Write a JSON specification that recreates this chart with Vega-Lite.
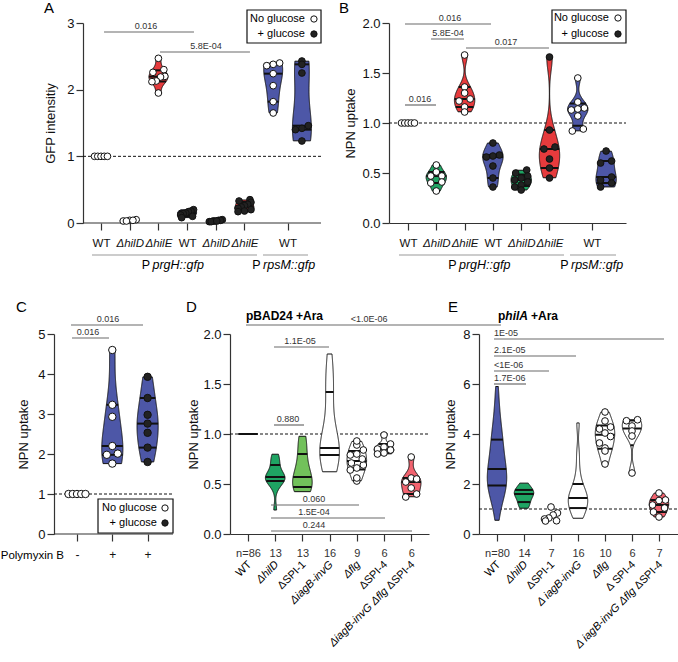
{
"$schema": "https://vega.github.io/schema/vega-lite/v6.json",
"padding": 0,
"autosize": {"type": "pad"},
"background": "white",
"datasets": {
"one": [{}],
"obs": [
{"p":"A","g":"WT","s":"WT","gl":0,"v":1},{"p":"A","g":"WT","s":"WT","gl":0,"v":1},{"p":"A","g":"WT","s":"WT","gl":0,"v":1},{"p":"A","g":"WT","s":"WT","gl":0,"v":1},{"p":"A","g":"WT","s":"WT","gl":0,"v":1},
{"p":"A","g":"hilD","s":"hilD","gl":0,"v":0.03},{"p":"A","g":"hilD","s":"hilD","gl":0,"v":0.04},{"p":"A","g":"hilD","s":"hilD","gl":0,"v":0.03},{"p":"A","g":"hilD","s":"hilD","gl":0,"v":0.05},{"p":"A","g":"hilD","s":"hilD","gl":0,"v":0.04},
{"p":"A","g":"hilE","s":"hilE","gl":0,"v":2.47},{"p":"A","g":"hilE","s":"hilE","gl":0,"v":2.30},{"p":"A","g":"hilE","s":"hilE","gl":0,"v":2.26},{"p":"A","g":"hilE","s":"hilE","gl":0,"v":2.20},{"p":"A","g":"hilE","s":"hilE","gl":0,"v":2.19},{"p":"A","g":"hilE","s":"hilE","gl":0,"v":2.13},{"p":"A","g":"hilE","s":"hilE","gl":0,"v":2.12},{"p":"A","g":"hilE","s":"hilE","gl":0,"v":1.95},
{"p":"A","g":"WTg","s":"WT","gl":1,"v":0.20},{"p":"A","g":"WTg","s":"WT","gl":1,"v":0.18},{"p":"A","g":"WTg","s":"WT","gl":1,"v":0.17},{"p":"A","g":"WTg","s":"WT","gl":1,"v":0.15},{"p":"A","g":"WTg","s":"WT","gl":1,"v":0.14},{"p":"A","g":"WTg","s":"WT","gl":1,"v":0.12},{"p":"A","g":"WTg","s":"WT","gl":1,"v":0.10},{"p":"A","g":"WTg","s":"WT","gl":1,"v":0.08},
{"p":"A","g":"hilDg","s":"hilD","gl":1,"v":0.05},{"p":"A","g":"hilDg","s":"hilD","gl":1,"v":0.04},{"p":"A","g":"hilDg","s":"hilD","gl":1,"v":0.04},{"p":"A","g":"hilDg","s":"hilD","gl":1,"v":0.03},{"p":"A","g":"hilDg","s":"hilD","gl":1,"v":0.03},{"p":"A","g":"hilDg","s":"hilD","gl":1,"v":0.02},{"p":"A","g":"hilDg","s":"hilD","gl":1,"v":0.02},{"p":"A","g":"hilDg","s":"hilD","gl":1,"v":0.03},
{"p":"A","g":"hilEg","s":"hilE","gl":1,"v":0.35},{"p":"A","g":"hilEg","s":"hilE","gl":1,"v":0.33},{"p":"A","g":"hilEg","s":"hilE","gl":1,"v":0.31},{"p":"A","g":"hilEg","s":"hilE","gl":1,"v":0.28},{"p":"A","g":"hilEg","s":"hilE","gl":1,"v":0.26},{"p":"A","g":"hilEg","s":"hilE","gl":1,"v":0.24},{"p":"A","g":"hilEg","s":"hilE","gl":1,"v":0.22},{"p":"A","g":"hilEg","s":"hilE","gl":1,"v":0.20},{"p":"A","g":"hilEg","s":"hilE","gl":1,"v":0.18},{"p":"A","g":"hilEg","s":"hilE","gl":1,"v":0.17},
{"p":"A","g":"rpsM","s":"WT","gl":0,"v":2.40},{"p":"A","g":"rpsM","s":"WT","gl":0,"v":2.38},{"p":"A","g":"rpsM","s":"WT","gl":0,"v":2.36},{"p":"A","g":"rpsM","s":"WT","gl":0,"v":2.24},{"p":"A","g":"rpsM","s":"WT","gl":0,"v":2.06},{"p":"A","g":"rpsM","s":"WT","gl":0,"v":1.82},{"p":"A","g":"rpsM","s":"WT","gl":0,"v":1.65},
{"p":"A","g":"rpsMg","s":"WT","gl":1,"v":2.43},{"p":"A","g":"rpsMg","s":"WT","gl":1,"v":2.38},{"p":"A","g":"rpsMg","s":"WT","gl":1,"v":2.25},{"p":"A","g":"rpsMg","s":"WT","gl":1,"v":1.46},{"p":"A","g":"rpsMg","s":"WT","gl":1,"v":1.42},{"p":"A","g":"rpsMg","s":"WT","gl":1,"v":1.40},{"p":"A","g":"rpsMg","s":"WT","gl":1,"v":1.23},
{"p":"B","g":"WT","s":"WT","gl":0,"v":1},{"p":"B","g":"WT","s":"WT","gl":0,"v":1},{"p":"B","g":"WT","s":"WT","gl":0,"v":1},{"p":"B","g":"WT","s":"WT","gl":0,"v":1},{"p":"B","g":"WT","s":"WT","gl":0,"v":1},
{"p":"B","g":"hilD","s":"hilD","gl":0,"v":0.58},{"p":"B","g":"hilD","s":"hilD","gl":0,"v":0.51},{"p":"B","g":"hilD","s":"hilD","gl":0,"v":0.47},{"p":"B","g":"hilD","s":"hilD","gl":0,"v":0.47},{"p":"B","g":"hilD","s":"hilD","gl":0,"v":0.41},{"p":"B","g":"hilD","s":"hilD","gl":0,"v":0.40},{"p":"B","g":"hilD","s":"hilD","gl":0,"v":0.32},
{"p":"B","g":"hilE","s":"hilE","gl":0,"v":1.68},{"p":"B","g":"hilE","s":"hilE","gl":0,"v":1.36},{"p":"B","g":"hilE","s":"hilE","gl":0,"v":1.30},{"p":"B","g":"hilE","s":"hilE","gl":0,"v":1.24},{"p":"B","g":"hilE","s":"hilE","gl":0,"v":1.22},{"p":"B","g":"hilE","s":"hilE","gl":0,"v":1.16},{"p":"B","g":"hilE","s":"hilE","gl":0,"v":1.11},
{"p":"B","g":"WTg","s":"WT","gl":1,"v":0.80},{"p":"B","g":"WTg","s":"WT","gl":1,"v":0.68},{"p":"B","g":"WTg","s":"WT","gl":1,"v":0.67},{"p":"B","g":"WTg","s":"WT","gl":1,"v":0.66},{"p":"B","g":"WTg","s":"WT","gl":1,"v":0.57},{"p":"B","g":"WTg","s":"WT","gl":1,"v":0.45},{"p":"B","g":"WTg","s":"WT","gl":1,"v":0.36},
{"p":"B","g":"hilDg","s":"hilD","gl":1,"v":0.53},{"p":"B","g":"hilDg","s":"hilD","gl":1,"v":0.50},{"p":"B","g":"hilDg","s":"hilD","gl":1,"v":0.47},{"p":"B","g":"hilDg","s":"hilD","gl":1,"v":0.45},{"p":"B","g":"hilDg","s":"hilD","gl":1,"v":0.43},{"p":"B","g":"hilDg","s":"hilD","gl":1,"v":0.41},{"p":"B","g":"hilDg","s":"hilD","gl":1,"v":0.38},{"p":"B","g":"hilDg","s":"hilD","gl":1,"v":0.36},{"p":"B","g":"hilDg","s":"hilD","gl":1,"v":0.33},
{"p":"B","g":"hilEg","s":"hilE","gl":1,"v":1.66},{"p":"B","g":"hilEg","s":"hilE","gl":1,"v":0.93},{"p":"B","g":"hilEg","s":"hilE","gl":1,"v":0.76},{"p":"B","g":"hilEg","s":"hilE","gl":1,"v":0.74},{"p":"B","g":"hilEg","s":"hilE","gl":1,"v":0.64},{"p":"B","g":"hilEg","s":"hilE","gl":1,"v":0.55},{"p":"B","g":"hilEg","s":"hilE","gl":1,"v":0.45},
{"p":"B","g":"rpsM","s":"WT","gl":0,"v":1.45},{"p":"B","g":"rpsM","s":"WT","gl":0,"v":1.21},{"p":"B","g":"rpsM","s":"WT","gl":0,"v":1.15},{"p":"B","g":"rpsM","s":"WT","gl":0,"v":1.14},{"p":"B","g":"rpsM","s":"WT","gl":0,"v":1.13},{"p":"B","g":"rpsM","s":"WT","gl":0,"v":1.07},{"p":"B","g":"rpsM","s":"WT","gl":0,"v":0.94},{"p":"B","g":"rpsM","s":"WT","gl":0,"v":0.92},
{"p":"B","g":"rpsMg","s":"WT","gl":1,"v":0.72},{"p":"B","g":"rpsMg","s":"WT","gl":1,"v":0.62},{"p":"B","g":"rpsMg","s":"WT","gl":1,"v":0.60},{"p":"B","g":"rpsMg","s":"WT","gl":1,"v":0.46},{"p":"B","g":"rpsMg","s":"WT","gl":1,"v":0.43},{"p":"B","g":"rpsMg","s":"WT","gl":1,"v":0.40},{"p":"B","g":"rpsMg","s":"WT","gl":1,"v":0.36},
{"p":"C","g":"neg","s":"WT","gl":0,"v":1},{"p":"C","g":"neg","s":"WT","gl":0,"v":1},{"p":"C","g":"neg","s":"WT","gl":0,"v":1},{"p":"C","g":"neg","s":"WT","gl":0,"v":1},{"p":"C","g":"neg","s":"WT","gl":0,"v":1},
{"p":"C","g":"pos1","s":"WT","gl":0,"v":4.60},{"p":"C","g":"pos1","s":"WT","gl":0,"v":3.23},{"p":"C","g":"pos1","s":"WT","gl":0,"v":2.93},{"p":"C","g":"pos1","s":"WT","gl":0,"v":2.20},{"p":"C","g":"pos1","s":"WT","gl":0,"v":2.01},{"p":"C","g":"pos1","s":"WT","gl":0,"v":1.98},{"p":"C","g":"pos1","s":"WT","gl":0,"v":1.76},
{"p":"C","g":"pos2","s":"WT","gl":1,"v":3.93},{"p":"C","g":"pos2","s":"WT","gl":1,"v":3.40},{"p":"C","g":"pos2","s":"WT","gl":1,"v":2.98},{"p":"C","g":"pos2","s":"WT","gl":1,"v":2.76},{"p":"C","g":"pos2","s":"WT","gl":1,"v":2.53},{"p":"C","g":"pos2","s":"WT","gl":1,"v":2.16},{"p":"C","g":"pos2","s":"WT","gl":1,"v":1.80},
{"p":"D","g":"WT","s":"WT","gl":0,"v":1},{"p":"D","g":"WT","s":"WT","gl":0,"v":1},{"p":"D","g":"WT","s":"WT","gl":0,"v":1},{"p":"D","g":"WT","s":"WT","gl":0,"v":1},{"p":"D","g":"WT","s":"WT","gl":0,"v":1},{"p":"D","g":"WT","s":"WT","gl":0,"v":1},{"p":"D","g":"WT","s":"WT","gl":0,"v":1},{"p":"D","g":"WT","s":"WT","gl":0,"v":1},{"p":"D","g":"WT","s":"WT","gl":0,"v":1},{"p":"D","g":"WT","s":"WT","gl":0,"v":1},
{"p":"D","g":"hilD","s":"hilD","gl":0,"v":0.24},{"p":"D","g":"hilD","s":"hilD","gl":0,"v":0.46},{"p":"D","g":"hilD","s":"hilD","gl":0,"v":0.52},{"p":"D","g":"hilD","s":"hilD","gl":0,"v":0.54},{"p":"D","g":"hilD","s":"hilD","gl":0,"v":0.55},{"p":"D","g":"hilD","s":"hilD","gl":0,"v":0.56},{"p":"D","g":"hilD","s":"hilD","gl":0,"v":0.57},{"p":"D","g":"hilD","s":"hilD","gl":0,"v":0.58},{"p":"D","g":"hilD","s":"hilD","gl":0,"v":0.60},{"p":"D","g":"hilD","s":"hilD","gl":0,"v":0.67},{"p":"D","g":"hilD","s":"hilD","gl":0,"v":0.71},{"p":"D","g":"hilD","s":"hilD","gl":0,"v":0.76},{"p":"D","g":"hilD","s":"hilD","gl":0,"v":0.80},
{"p":"D","g":"SPI1","s":"SPI1","gl":0,"v":0.42},{"p":"D","g":"SPI1","s":"SPI1","gl":0,"v":0.44},{"p":"D","g":"SPI1","s":"SPI1","gl":0,"v":0.46},{"p":"D","g":"SPI1","s":"SPI1","gl":0,"v":0.48},{"p":"D","g":"SPI1","s":"SPI1","gl":0,"v":0.50},{"p":"D","g":"SPI1","s":"SPI1","gl":0,"v":0.53},{"p":"D","g":"SPI1","s":"SPI1","gl":0,"v":0.57},{"p":"D","g":"SPI1","s":"SPI1","gl":0,"v":0.60},{"p":"D","g":"SPI1","s":"SPI1","gl":0,"v":0.65},{"p":"D","g":"SPI1","s":"SPI1","gl":0,"v":0.78},{"p":"D","g":"SPI1","s":"SPI1","gl":0,"v":0.82},{"p":"D","g":"SPI1","s":"SPI1","gl":0,"v":0.95},{"p":"D","g":"SPI1","s":"SPI1","gl":0,"v":0.98},
{"p":"D","g":"iagB","s":"iagB","gl":0,"v":0.62},{"p":"D","g":"iagB","s":"iagB","gl":0,"v":0.70},{"p":"D","g":"iagB","s":"iagB","gl":0,"v":0.75},{"p":"D","g":"iagB","s":"iagB","gl":0,"v":0.78},{"p":"D","g":"iagB","s":"iagB","gl":0,"v":0.82},{"p":"D","g":"iagB","s":"iagB","gl":0,"v":0.83},{"p":"D","g":"iagB","s":"iagB","gl":0,"v":0.84},{"p":"D","g":"iagB","s":"iagB","gl":0,"v":0.85},{"p":"D","g":"iagB","s":"iagB","gl":0,"v":0.87},{"p":"D","g":"iagB","s":"iagB","gl":0,"v":0.90},{"p":"D","g":"iagB","s":"iagB","gl":0,"v":0.98},{"p":"D","g":"iagB","s":"iagB","gl":0,"v":1.30},{"p":"D","g":"iagB","s":"iagB","gl":0,"v":1.46},{"p":"D","g":"iagB","s":"iagB","gl":0,"v":1.50},{"p":"D","g":"iagB","s":"iagB","gl":0,"v":1.62},{"p":"D","g":"iagB","s":"iagB","gl":0,"v":1.80},
{"p":"D","g":"flg","s":"flg","gl":0,"v":0.53},{"p":"D","g":"flg","s":"flg","gl":0,"v":0.56},{"p":"D","g":"flg","s":"flg","gl":0,"v":0.64},{"p":"D","g":"flg","s":"flg","gl":0,"v":0.66},{"p":"D","g":"flg","s":"flg","gl":0,"v":0.69},{"p":"D","g":"flg","s":"flg","gl":0,"v":0.71},{"p":"D","g":"flg","s":"flg","gl":0,"v":0.75},{"p":"D","g":"flg","s":"flg","gl":0,"v":0.79},{"p":"D","g":"flg","s":"flg","gl":0,"v":0.80},{"p":"D","g":"flg","s":"flg","gl":0,"v":0.84},{"p":"D","g":"flg","s":"flg","gl":0,"v":0.89},{"p":"D","g":"flg","s":"flg","gl":0,"v":0.93},
{"p":"D","g":"SPI4","s":"SPI4","gl":0,"v":0.99},{"p":"D","g":"SPI4","s":"SPI4","gl":0,"v":0.90},{"p":"D","g":"SPI4","s":"SPI4","gl":0,"v":0.87},{"p":"D","g":"SPI4","s":"SPI4","gl":0,"v":0.85},{"p":"D","g":"SPI4","s":"SPI4","gl":0,"v":0.84},{"p":"D","g":"SPI4","s":"SPI4","gl":0,"v":0.81},{"p":"D","g":"SPI4","s":"SPI4","gl":0,"v":0.80},
{"p":"D","g":"tri","s":"tri","gl":0,"v":0.77},{"p":"D","g":"tri","s":"tri","gl":0,"v":0.56},{"p":"D","g":"tri","s":"tri","gl":0,"v":0.55},{"p":"D","g":"tri","s":"tri","gl":0,"v":0.52},{"p":"D","g":"tri","s":"tri","gl":0,"v":0.46},{"p":"D","g":"tri","s":"tri","gl":0,"v":0.40},{"p":"D","g":"tri","s":"tri","gl":0,"v":0.37},
{"p":"E","g":"WT","s":"WT","gl":0,"v":0.55},{"p":"E","g":"WT","s":"WT","gl":0,"v":0.9},{"p":"E","g":"WT","s":"WT","gl":0,"v":1.2},{"p":"E","g":"WT","s":"WT","gl":0,"v":1.4},{"p":"E","g":"WT","s":"WT","gl":0,"v":1.55},{"p":"E","g":"WT","s":"WT","gl":0,"v":1.65},{"p":"E","g":"WT","s":"WT","gl":0,"v":1.75},{"p":"E","g":"WT","s":"WT","gl":0,"v":1.82},{"p":"E","g":"WT","s":"WT","gl":0,"v":1.88},{"p":"E","g":"WT","s":"WT","gl":0,"v":1.93},
{"p":"E","g":"WT","s":"WT","gl":0,"v":1.97},{"p":"E","g":"WT","s":"WT","gl":0,"v":2.0},{"p":"E","g":"WT","s":"WT","gl":0,"v":2.05},{"p":"E","g":"WT","s":"WT","gl":0,"v":2.1},{"p":"E","g":"WT","s":"WT","gl":0,"v":2.15},{"p":"E","g":"WT","s":"WT","gl":0,"v":2.2},{"p":"E","g":"WT","s":"WT","gl":0,"v":2.3},{"p":"E","g":"WT","s":"WT","gl":0,"v":2.4},{"p":"E","g":"WT","s":"WT","gl":0,"v":2.5},{"p":"E","g":"WT","s":"WT","gl":0,"v":2.58},
{"p":"E","g":"WT","s":"WT","gl":0,"v":2.62},{"p":"E","g":"WT","s":"WT","gl":0,"v":2.7},{"p":"E","g":"WT","s":"WT","gl":0,"v":2.8},{"p":"E","g":"WT","s":"WT","gl":0,"v":2.9},{"p":"E","g":"WT","s":"WT","gl":0,"v":3.0},{"p":"E","g":"WT","s":"WT","gl":0,"v":3.1},{"p":"E","g":"WT","s":"WT","gl":0,"v":3.25},{"p":"E","g":"WT","s":"WT","gl":0,"v":3.4},{"p":"E","g":"WT","s":"WT","gl":0,"v":3.55},{"p":"E","g":"WT","s":"WT","gl":0,"v":3.7},
{"p":"E","g":"WT","s":"WT","gl":0,"v":3.8},{"p":"E","g":"WT","s":"WT","gl":0,"v":3.85},{"p":"E","g":"WT","s":"WT","gl":0,"v":3.95},{"p":"E","g":"WT","s":"WT","gl":0,"v":4.1},{"p":"E","g":"WT","s":"WT","gl":0,"v":4.3},{"p":"E","g":"WT","s":"WT","gl":0,"v":4.5},{"p":"E","g":"WT","s":"WT","gl":0,"v":4.8},{"p":"E","g":"WT","s":"WT","gl":0,"v":5.1},{"p":"E","g":"WT","s":"WT","gl":0,"v":5.5},{"p":"E","g":"WT","s":"WT","gl":0,"v":5.9},
{"p":"E","g":"hilD","s":"hilD","gl":0,"v":1.02},{"p":"E","g":"hilD","s":"hilD","gl":0,"v":1.10},{"p":"E","g":"hilD","s":"hilD","gl":0,"v":1.18},{"p":"E","g":"hilD","s":"hilD","gl":0,"v":1.31},{"p":"E","g":"hilD","s":"hilD","gl":0,"v":1.40},{"p":"E","g":"hilD","s":"hilD","gl":0,"v":1.52},{"p":"E","g":"hilD","s":"hilD","gl":0,"v":1.58},{"p":"E","g":"hilD","s":"hilD","gl":0,"v":1.62},{"p":"E","g":"hilD","s":"hilD","gl":0,"v":1.66},{"p":"E","g":"hilD","s":"hilD","gl":0,"v":1.70},{"p":"E","g":"hilD","s":"hilD","gl":0,"v":1.75},{"p":"E","g":"hilD","s":"hilD","gl":0,"v":1.80},{"p":"E","g":"hilD","s":"hilD","gl":0,"v":1.95},{"p":"E","g":"hilD","s":"hilD","gl":0,"v":2.04},
{"p":"E","g":"SPI1","s":"SPI1","gl":0,"v":1.08},{"p":"E","g":"SPI1","s":"SPI1","gl":0,"v":0.84},{"p":"E","g":"SPI1","s":"SPI1","gl":0,"v":0.76},{"p":"E","g":"SPI1","s":"SPI1","gl":0,"v":0.64},{"p":"E","g":"SPI1","s":"SPI1","gl":0,"v":0.60},{"p":"E","g":"SPI1","s":"SPI1","gl":0,"v":0.53},{"p":"E","g":"SPI1","s":"SPI1","gl":0,"v":0.52},
{"p":"E","g":"iagB","s":"iagB","gl":0,"v":0.62},{"p":"E","g":"iagB","s":"iagB","gl":0,"v":0.75},{"p":"E","g":"iagB","s":"iagB","gl":0,"v":0.88},{"p":"E","g":"iagB","s":"iagB","gl":0,"v":1.00},{"p":"E","g":"iagB","s":"iagB","gl":0,"v":1.15},{"p":"E","g":"iagB","s":"iagB","gl":0,"v":1.25},{"p":"E","g":"iagB","s":"iagB","gl":0,"v":1.35},{"p":"E","g":"iagB","s":"iagB","gl":0,"v":1.40},{"p":"E","g":"iagB","s":"iagB","gl":0,"v":1.48},{"p":"E","g":"iagB","s":"iagB","gl":0,"v":1.55},{"p":"E","g":"iagB","s":"iagB","gl":0,"v":1.70},{"p":"E","g":"iagB","s":"iagB","gl":0,"v":1.85},{"p":"E","g":"iagB","s":"iagB","gl":0,"v":2.05},{"p":"E","g":"iagB","s":"iagB","gl":0,"v":2.50},{"p":"E","g":"iagB","s":"iagB","gl":0,"v":3.20},{"p":"E","g":"iagB","s":"iagB","gl":0,"v":4.45},
{"p":"E","g":"flg","s":"flg","gl":0,"v":4.88},{"p":"E","g":"flg","s":"flg","gl":0,"v":4.52},{"p":"E","g":"flg","s":"flg","gl":0,"v":4.28},{"p":"E","g":"flg","s":"flg","gl":0,"v":4.20},{"p":"E","g":"flg","s":"flg","gl":0,"v":4.04},{"p":"E","g":"flg","s":"flg","gl":0,"v":3.90},{"p":"E","g":"flg","s":"flg","gl":0,"v":3.64},{"p":"E","g":"flg","s":"flg","gl":0,"v":3.44},{"p":"E","g":"flg","s":"flg","gl":0,"v":3.32},{"p":"E","g":"flg","s":"flg","gl":0,"v":2.80},
{"p":"E","g":"SPI4","s":"SPI4","gl":0,"v":4.57},{"p":"E","g":"SPI4","s":"SPI4","gl":0,"v":4.53},{"p":"E","g":"SPI4","s":"SPI4","gl":0,"v":4.32},{"p":"E","g":"SPI4","s":"SPI4","gl":0,"v":4.12},{"p":"E","g":"SPI4","s":"SPI4","gl":0,"v":3.92},{"p":"E","g":"SPI4","s":"SPI4","gl":0,"v":2.44},
{"p":"E","g":"tri","s":"tri","gl":0,"v":1.64},{"p":"E","g":"tri","s":"tri","gl":0,"v":1.36},{"p":"E","g":"tri","s":"tri","gl":0,"v":1.34},{"p":"E","g":"tri","s":"tri","gl":0,"v":1.16},{"p":"E","g":"tri","s":"tri","gl":0,"v":1.04},{"p":"E","g":"tri","s":"tri","gl":0,"v":0.88},{"p":"E","g":"tri","s":"tri","gl":0,"v":0.68}
]
},
"bounds": "flush",
"spacing": 311,
"vconcat": [
{
"hconcat": [
{
"width": 267, "height": 200,
"resolve": {"axis": {"x": "independent", "y": "independent"}},
"layer": [
{"data": {"name": "one"}, "mark": {"type": "rule", "strokeDash": [3, 2], "color": "#111111", "strokeWidth": 1},
 "encoding": {
  "x": {"datum": -0.627, "type": "quantitative", "scale": {"domain": [-1.6376, 7.6655], "nice": false, "zero": false},
   "axis": {"values": [0, 1, 2, 3, 4, 5, 6.5], "domain": false, "title": null, "labelFontSize": 11.5, "labelPadding": 7, "labelOverlap": false, "labelFlush": false, "labelBound": false,
    "labelExpr": "(datum.value == 1 || datum.value == 4) ? 'ΔhilD' : ((datum.value == 2 || datum.value == 5) ? 'ΔhilE' : 'WT')",
    "labelFontStyle": {"condition": {"test": "datum.value == 1 || datum.value == 2 || datum.value == 4 || datum.value == 5", "value": "italic"}, "value": "normal"}}},
  "x2": {"datum": 7.666},
  "y": {"datum": 1, "type": "quantitative", "scale": {"domain": [0, 3], "nice": false, "zero": false},
   "axis": {"values": [0, 1, 2, 3], "format": "d", "labelOverlap": false, "labelFlush": false, "offset": -29, "title": "GFP intensitiy", "titlePadding": 9}}
 }},
{"data": {"name": "one"}, "mark": {"type": "rule", "color": "#333333", "strokeWidth": 1.2}, "encoding": {"x": {"datum": -0.627, "axis": null}, "x2": {"datum": 7.666}, "y": {"datum": 0, "axis": null}}},
{"data": {"name": "obs"},
 "transform": [
  {"filter": "datum.p == 'A'"},
  {"calculate": "indexof(['WT','hilD','hilE','WTg','hilDg','hilEg','rpsM','rpsMg'], datum.g)", "as": "idx"},
  {"joinaggregate": [{"op": "min", "field": "v", "as": "lo"}, {"op": "max", "field": "v", "as": "hi"}, {"op": "count", "as": "n"}], "groupby": ["g"]},
  {"filter": "datum.hi > datum.lo"},
  {"window": [{"op": "row_number", "as": "k"}, {"op": "lead", "field": "v", "as": "nx"}], "sort": [{"field": "v", "order": "ascending"}], "groupby": ["g"]},
  {"calculate": "isValid(datum.nx) ? datum.nx : datum.v", "as": "nx2"},
  {"calculate": "floor((datum.n+1)*0.25) == datum.k ? datum.v + ((datum.n+1)*0.25 - datum.k)*(datum.nx2 - datum.v) : null", "as": "c1"},
  {"calculate": "floor((datum.n+1)*0.5) == datum.k ? datum.v + ((datum.n+1)*0.5 - datum.k)*(datum.nx2 - datum.v) : null", "as": "c2"},
  {"calculate": "floor((datum.n+1)*0.75) == datum.k ? datum.v + ((datum.n+1)*0.75 - datum.k)*(datum.nx2 - datum.v) : null", "as": "c3"},
  {"joinaggregate": [{"op": "max", "field": "c1", "as": "q1"}, {"op": "max", "field": "c2", "as": "q2"}, {"op": "max", "field": "c3", "as": "q3"}], "groupby": ["g"]},
  {"joinaggregate": [{"op": "min", "field": "v", "as": "gmin"}, {"op": "max", "field": "v", "as": "gmax"}]},
  {"density": "v", "groupby": ["g", "idx", "s", "lo", "hi", "q1", "q2", "q3", "gmin", "gmax"], "steps": 400},
  {"filter": "datum.value >= datum.lo - 1e-9 && datum.value <= datum.hi + 1e-9"},
  {"joinaggregate": [{"op": "max", "field": "density", "as": "dm"}], "groupby": ["g"]},
  {"calculate": "datum.idx - 0.33*datum.density/datum.dm", "as": "xl"},
  {"calculate": "datum.idx + 0.33*datum.density/datum.dm", "as": "xr"}
 ],
 "mark": {"type": "area", "orient": "horizontal", "stroke": "#111111", "strokeWidth": 1},
 "encoding": {
  "y": {"field": "value", "type": "quantitative", "axis": null},
  "x": {"field": "xl", "type": "quantitative", "axis": null},
  "x2": {"field": "xr"},
  "fill": {"field": "s", "type": "nominal", "legend": null, "scale": {"domain": ["WT","hilD","hilE","SPI1","iagB","flg","SPI4","tri"], "range": ["#4d57a7","#1fa463","#e63b3d","#72c15b","#ffffff","#ffffff","#ffffff","#f2636f"]}},
  "detail": {"field": "g"}
 }},
{"data": {"name": "obs"},
 "transform": [
  {"filter": "datum.p == 'A'"},
  {"calculate": "indexof(['WT','hilD','hilE','WTg','hilDg','hilEg','rpsM','rpsMg'], datum.g)", "as": "idx"},
  {"joinaggregate": [{"op": "min", "field": "v", "as": "lo"}, {"op": "max", "field": "v", "as": "hi"}, {"op": "count", "as": "n"}], "groupby": ["g"]},
  {"filter": "datum.hi > datum.lo"},
  {"window": [{"op": "row_number", "as": "k"}, {"op": "lead", "field": "v", "as": "nx"}], "sort": [{"field": "v", "order": "ascending"}], "groupby": ["g"]},
  {"calculate": "isValid(datum.nx) ? datum.nx : datum.v", "as": "nx2"},
  {"calculate": "floor((datum.n+1)*0.25) == datum.k ? datum.v + ((datum.n+1)*0.25 - datum.k)*(datum.nx2 - datum.v) : null", "as": "c1"},
  {"calculate": "floor((datum.n+1)*0.5) == datum.k ? datum.v + ((datum.n+1)*0.5 - datum.k)*(datum.nx2 - datum.v) : null", "as": "c2"},
  {"calculate": "floor((datum.n+1)*0.75) == datum.k ? datum.v + ((datum.n+1)*0.75 - datum.k)*(datum.nx2 - datum.v) : null", "as": "c3"},
  {"joinaggregate": [{"op": "max", "field": "c1", "as": "q1"}, {"op": "max", "field": "c2", "as": "q2"}, {"op": "max", "field": "c3", "as": "q3"}], "groupby": ["g"]},
  {"joinaggregate": [{"op": "min", "field": "v", "as": "gmin"}, {"op": "max", "field": "v", "as": "gmax"}]},
  {"density": "v", "groupby": ["g", "idx", "s", "lo", "hi", "q1", "q2", "q3", "gmin", "gmax"], "steps": 400},
  {"filter": "datum.value >= datum.lo - 1e-9 && datum.value <= datum.hi + 1e-9"},
  {"joinaggregate": [{"op": "max", "field": "density", "as": "dm"}], "groupby": ["g"]},
  {"calculate": "datum.idx - 0.33*datum.density/datum.dm", "as": "xl"},
  {"calculate": "datum.idx + 0.33*datum.density/datum.dm", "as": "xr"},
  {"fold": ["q1", "q2", "q3"], "as": ["qk", "qv"]},
  {"filter": "abs(datum.value - datum.qv) <= (datum.gmax - datum.gmin)*0.0013"}
 ],
 "mark": {"type": "rule", "color": "#111111", "strokeWidth": 2},
 "encoding": {"y": {"field": "qv", "type": "quantitative", "axis": null}, "x": {"field": "xl", "type": "quantitative", "axis": null}, "x2": {"field": "xr"}}},
{"data": {"name": "obs"},
 "transform": [
  {"filter": "datum.p == 'A'"},
  {"calculate": "indexof(['WT','hilD','hilE','WTg','hilDg','hilEg','rpsM','rpsMg'], datum.g)", "as": "idx"},
  {"calculate": "floor(datum.v / 0.105)", "as": "b"},
  {"window": [{"op": "row_number", "as": "k"}], "sort": [{"field": "v", "order": "ascending"}], "groupby": ["g", "b"]},
  {"joinaggregate": [{"op": "count", "as": "c"}], "groupby": ["g", "b"]},
  {"calculate": "datum.idx + (datum.k - 1 - (datum.c - 1)/2) * min(0.38, 0.45 / max(datum.c - 1, 1))", "as": "xp"}
 ],
 "mark": {"type": "point", "filled": true, "size": 45, "stroke": "#111111", "strokeWidth": 1, "opacity": 1},
 "encoding": {"x": {"field": "xp", "type": "quantitative", "axis": null}, "y": {"field": "v", "type": "quantitative", "axis": null},
  "fill": {"condition": {"test": "datum.gl == 1", "value": "#222222"}, "value": "#ffffff"}}},
{"data": {"values": [{"x1": 0.105, "x2": 3.24, "y": 2.865, "t": "0.016", "tx": 1.57}, {"x1": 2.056, "x2": 5.19, "y": 2.565, "t": "5.8E-04", "tx": 3.66}]},
 "layer": [
  {"mark": {"type": "rule", "color": "#6b6b6b", "strokeWidth": 1.2}, "encoding": {"x": {"field": "x1", "type": "quantitative", "axis": null}, "x2": {"field": "x2"}, "y": {"field": "y", "type": "quantitative", "axis": null}}},
  {"mark": {"type": "text", "fontSize": 9, "color": "#333333", "dy": -3, "align": "center", "baseline": "alphabetic"}, "encoding": {"x": {"field": "tx", "type": "quantitative", "axis": null}, "y": {"field": "y", "type": "quantitative", "axis": null}, "text": {"field": "t"}}}
 ]},
{"data": {"name": "one"}, "mark": {"type": "rect", "fill": "#ffffff", "stroke": "#111111", "strokeWidth": 1.2}, "encoding": {"x": {"datum": 5.087, "axis": null}, "x2": {"datum": 7.666}, "y": {"datum": 3.195, "axis": null}, "y2": {"datum": 2.70}}},
{"data": {"name": "one"}, "mark": {"type": "text", "text": "No glucose", "align": "right", "baseline": "middle", "fontSize": 11}, "encoding": {"x": {"datum": 7.108, "axis": null}, "y": {"datum": 3.06, "axis": null}}},
{"data": {"name": "one"}, "mark": {"type": "text", "text": "+ glucose", "align": "right", "baseline": "middle", "fontSize": 11}, "encoding": {"x": {"datum": 7.108, "axis": null}, "y": {"datum": 2.835, "axis": null}}},
{"data": {"name": "one"}, "mark": {"type": "point", "filled": true, "fill": "#ffffff", "stroke": "#111111", "strokeWidth": 1, "size": 40, "opacity": 1}, "encoding": {"x": {"datum": 7.42, "axis": null}, "y": {"datum": 3.06, "axis": null}}},
{"data": {"name": "one"}, "mark": {"type": "point", "filled": true, "fill": "#222222", "stroke": "#111111", "strokeWidth": 1, "size": 40, "opacity": 1}, "encoding": {"x": {"datum": 7.42, "axis": null}, "y": {"datum": 2.835, "axis": null}}},
{"data": {"values": [{"x1": -0.314, "x2": 5.436}, {"x1": 5.645, "x2": 7.213}]},
 "mark": {"type": "rule", "color": "#999999", "strokeWidth": 1.2},
 "encoding": {"x": {"field": "x1", "type": "quantitative", "axis": null}, "x2": {"field": "x2"}, "y": {"datum": -0.48, "axis": null}}},
{"data": {"values": [{"t": "prgH::gfp", "x": 1.794}, {"t": "rpsM::gfp", "x": 5.645}]},
 "layer": [
  {"mark": {"type": "text", "fontStyle": "italic", "fontSize": 12.5, "align": "left", "baseline": "alphabetic"}, "encoding": {"x": {"field": "x", "type": "quantitative", "axis": null}, "y": {"datum": -0.69, "axis": null}, "text": {"field": "t"}}},
  {"mark": {"type": "text", "text": "P", "fontSize": 12.5, "align": "right", "baseline": "alphabetic", "dx": -2.5}, "encoding": {"x": {"field": "x", "type": "quantitative", "axis": null}, "y": {"datum": -0.69, "axis": null}}}
 ]},
{"data": {"name": "one"}, "mark": {"type": "text", "text": "A", "fontSize": 15, "align": "left", "baseline": "alphabetic"}, "encoding": {"x": {"datum": -1.986, "axis": null}, "y": {"datum": 3.15, "axis": null}}}
]
},
{
"width": 237, "height": 200,
"resolve": {"axis": {"x": "independent", "y": "independent"}},
"layer": [
{"data": {"name": "one"}, "mark": {"type": "rule", "strokeDash": [3, 2], "color": "#111111", "strokeWidth": 1},
 "encoding": {
  "x": {"datum": -0.6714, "type": "quantitative", "scale": {"domain": [-0.6714, 7.7032], "nice": false, "zero": false},
   "axis": {"values": [0, 1, 2, 3, 4, 5, 6.5], "title": null, "labelFontSize": 11.5, "labelPadding": 7, "labelOverlap": false, "labelFlush": false, "labelBound": false,
    "labelExpr": "(datum.value == 1 || datum.value == 4) ? 'ΔhilD' : ((datum.value == 2 || datum.value == 5) ? 'ΔhilE' : 'WT')",
    "labelFontStyle": {"condition": {"test": "datum.value == 1 || datum.value == 2 || datum.value == 4 || datum.value == 5", "value": "italic"}, "value": "normal"}}},
  "x2": {"datum": 7.7032},
  "y": {"datum": 1, "type": "quantitative", "scale": {"domain": [0, 2], "nice": false, "zero": false},
   "axis": {"values": [0, 0.5, 1, 1.5, 2], "format": ".1f", "labelOverlap": false, "labelFlush": false, "title": "NPN uptake", "titlePadding": 4}}
 }},
{"data": {"name": "obs"},
 "transform": [
  {"filter": "datum.p == 'B'"},
  {"calculate": "indexof(['WT','hilD','hilE','WTg','hilDg','hilEg','rpsM','rpsMg'], datum.g)", "as": "idx"},
  {"joinaggregate": [{"op": "min", "field": "v", "as": "lo"}, {"op": "max", "field": "v", "as": "hi"}, {"op": "count", "as": "n"}], "groupby": ["g"]},
  {"filter": "datum.hi > datum.lo"},
  {"window": [{"op": "row_number", "as": "k"}, {"op": "lead", "field": "v", "as": "nx"}], "sort": [{"field": "v", "order": "ascending"}], "groupby": ["g"]},
  {"calculate": "isValid(datum.nx) ? datum.nx : datum.v", "as": "nx2"},
  {"calculate": "floor((datum.n+1)*0.25) == datum.k ? datum.v + ((datum.n+1)*0.25 - datum.k)*(datum.nx2 - datum.v) : null", "as": "c1"},
  {"calculate": "floor((datum.n+1)*0.5) == datum.k ? datum.v + ((datum.n+1)*0.5 - datum.k)*(datum.nx2 - datum.v) : null", "as": "c2"},
  {"calculate": "floor((datum.n+1)*0.75) == datum.k ? datum.v + ((datum.n+1)*0.75 - datum.k)*(datum.nx2 - datum.v) : null", "as": "c3"},
  {"joinaggregate": [{"op": "max", "field": "c1", "as": "q1"}, {"op": "max", "field": "c2", "as": "q2"}, {"op": "max", "field": "c3", "as": "q3"}], "groupby": ["g"]},
  {"joinaggregate": [{"op": "min", "field": "v", "as": "gmin"}, {"op": "max", "field": "v", "as": "gmax"}]},
  {"density": "v", "groupby": ["g", "idx", "s", "lo", "hi", "q1", "q2", "q3", "gmin", "gmax"], "steps": 400},
  {"filter": "datum.value >= datum.lo - 1e-9 && datum.value <= datum.hi + 1e-9"},
  {"joinaggregate": [{"op": "max", "field": "density", "as": "dm"}], "groupby": ["g"]},
  {"calculate": "datum.idx - 0.36*datum.density/datum.dm", "as": "xl"},
  {"calculate": "datum.idx + 0.36*datum.density/datum.dm", "as": "xr"}
 ],
 "mark": {"type": "area", "orient": "horizontal", "stroke": "#111111", "strokeWidth": 1},
 "encoding": {
  "y": {"field": "value", "type": "quantitative", "axis": null},
  "x": {"field": "xl", "type": "quantitative", "axis": null},
  "x2": {"field": "xr"},
  "fill": {"field": "s", "type": "nominal", "legend": null, "scale": {"domain": ["WT","hilD","hilE","SPI1","iagB","flg","SPI4","tri"], "range": ["#4d57a7","#1fa463","#e63b3d","#72c15b","#ffffff","#ffffff","#ffffff","#f2636f"]}},
  "detail": {"field": "g"}
 }},
{"data": {"name": "obs"},
 "transform": [
  {"filter": "datum.p == 'B'"},
  {"calculate": "indexof(['WT','hilD','hilE','WTg','hilDg','hilEg','rpsM','rpsMg'], datum.g)", "as": "idx"},
  {"joinaggregate": [{"op": "min", "field": "v", "as": "lo"}, {"op": "max", "field": "v", "as": "hi"}, {"op": "count", "as": "n"}], "groupby": ["g"]},
  {"filter": "datum.hi > datum.lo"},
  {"window": [{"op": "row_number", "as": "k"}, {"op": "lead", "field": "v", "as": "nx"}], "sort": [{"field": "v", "order": "ascending"}], "groupby": ["g"]},
  {"calculate": "isValid(datum.nx) ? datum.nx : datum.v", "as": "nx2"},
  {"calculate": "floor((datum.n+1)*0.25) == datum.k ? datum.v + ((datum.n+1)*0.25 - datum.k)*(datum.nx2 - datum.v) : null", "as": "c1"},
  {"calculate": "floor((datum.n+1)*0.5) == datum.k ? datum.v + ((datum.n+1)*0.5 - datum.k)*(datum.nx2 - datum.v) : null", "as": "c2"},
  {"calculate": "floor((datum.n+1)*0.75) == datum.k ? datum.v + ((datum.n+1)*0.75 - datum.k)*(datum.nx2 - datum.v) : null", "as": "c3"},
  {"joinaggregate": [{"op": "max", "field": "c1", "as": "q1"}, {"op": "max", "field": "c2", "as": "q2"}, {"op": "max", "field": "c3", "as": "q3"}], "groupby": ["g"]},
  {"joinaggregate": [{"op": "min", "field": "v", "as": "gmin"}, {"op": "max", "field": "v", "as": "gmax"}]},
  {"density": "v", "groupby": ["g", "idx", "s", "lo", "hi", "q1", "q2", "q3", "gmin", "gmax"], "steps": 400},
  {"filter": "datum.value >= datum.lo - 1e-9 && datum.value <= datum.hi + 1e-9"},
  {"joinaggregate": [{"op": "max", "field": "density", "as": "dm"}], "groupby": ["g"]},
  {"calculate": "datum.idx - 0.36*datum.density/datum.dm", "as": "xl"},
  {"calculate": "datum.idx + 0.36*datum.density/datum.dm", "as": "xr"},
  {"fold": ["q1", "q2", "q3"], "as": ["qk", "qv"]},
  {"filter": "abs(datum.value - datum.qv) <= (datum.gmax - datum.gmin)*0.0013"}
 ],
 "mark": {"type": "rule", "color": "#111111", "strokeWidth": 2},
 "encoding": {"y": {"field": "qv", "type": "quantitative", "axis": null}, "x": {"field": "xl", "type": "quantitative", "axis": null}, "x2": {"field": "xr"}}},
{"data": {"name": "obs"},
 "transform": [
  {"filter": "datum.p == 'B'"},
  {"calculate": "indexof(['WT','hilD','hilE','WTg','hilDg','hilEg','rpsM','rpsMg'], datum.g)", "as": "idx"},
  {"calculate": "floor(datum.v / 0.07)", "as": "b"},
  {"window": [{"op": "row_number", "as": "k"}], "sort": [{"field": "v", "order": "ascending"}], "groupby": ["g", "b"]},
  {"joinaggregate": [{"op": "count", "as": "c"}], "groupby": ["g", "b"]},
  {"calculate": "datum.idx + (datum.k - 1 - (datum.c - 1)/2) * min(0.39, 0.46 / max(datum.c - 1, 1))", "as": "xp"}
 ],
 "mark": {"type": "point", "filled": true, "size": 45, "stroke": "#111111", "strokeWidth": 1, "opacity": 1},
 "encoding": {"x": {"field": "xp", "type": "quantitative", "axis": null}, "y": {"field": "v", "type": "quantitative", "axis": null},
  "fill": {"condition": {"test": "datum.gl == 1", "value": "#222222"}, "value": "#ffffff"}}},
{"data": {"values": [{"x1": -0.106, "x2": 2.933, "y": 1.99, "t": "0.016", "tx": 1.484}, {"x1": 0.813, "x2": 1.979, "y": 1.84, "t": "5.8E-04", "tx": 1.413}, {"x1": 2.049, "x2": 4.982, "y": 1.75, "t": "0.017", "tx": 3.463}, {"x1": -0.106, "x2": 0.989, "y": 1.18, "t": "0.016", "tx": 0.424}]},
 "layer": [
  {"mark": {"type": "rule", "color": "#6b6b6b", "strokeWidth": 1.2}, "encoding": {"x": {"field": "x1", "type": "quantitative", "axis": null}, "x2": {"field": "x2"}, "y": {"field": "y", "type": "quantitative", "axis": null}}},
  {"mark": {"type": "text", "fontSize": 9, "color": "#333333", "dy": -3, "align": "center", "baseline": "alphabetic"}, "encoding": {"x": {"field": "tx", "type": "quantitative", "axis": null}, "y": {"field": "y", "type": "quantitative", "axis": null}, "text": {"field": "t"}}}
 ]},
{"data": {"name": "one"}, "mark": {"type": "rect", "fill": "#ffffff", "stroke": "#111111", "strokeWidth": 1.2}, "encoding": {"x": {"datum": 5.088, "axis": null}, "x2": {"datum": 7.703}, "y": {"datum": 2.13, "axis": null}, "y2": {"datum": 1.80}}},
{"data": {"name": "one"}, "mark": {"type": "text", "text": "No glucose", "align": "right", "baseline": "middle", "fontSize": 11}, "encoding": {"x": {"datum": 7.10, "axis": null}, "y": {"datum": 2.05, "axis": null}}},
{"data": {"name": "one"}, "mark": {"type": "text", "text": "+ glucose", "align": "right", "baseline": "middle", "fontSize": 11}, "encoding": {"x": {"datum": 7.10, "axis": null}, "y": {"datum": 1.89, "axis": null}}},
{"data": {"name": "one"}, "mark": {"type": "point", "filled": true, "fill": "#ffffff", "stroke": "#111111", "strokeWidth": 1, "size": 40, "opacity": 1}, "encoding": {"x": {"datum": 7.42, "axis": null}, "y": {"datum": 2.05, "axis": null}}},
{"data": {"name": "one"}, "mark": {"type": "point", "filled": true, "fill": "#222222", "stroke": "#111111", "strokeWidth": 1, "size": 40, "opacity": 1}, "encoding": {"x": {"datum": 7.42, "axis": null}, "y": {"datum": 1.89, "axis": null}}},
{"data": {"values": [{"x1": -0.318, "x2": 5.512}, {"x1": 5.724, "x2": 7.35}]},
 "mark": {"type": "rule", "color": "#999999", "strokeWidth": 1.2},
 "encoding": {"x": {"field": "x1", "type": "quantitative", "axis": null}, "x2": {"field": "x2"}, "y": {"datum": -0.32, "axis": null}}},
{"data": {"values": [{"t": "prgH::gfp", "x": 1.802}, {"t": "rpsM::gfp", "x": 5.76}]},
 "layer": [
  {"mark": {"type": "text", "fontStyle": "italic", "fontSize": 12.5, "align": "left", "baseline": "alphabetic"}, "encoding": {"x": {"field": "x", "type": "quantitative", "axis": null}, "y": {"datum": -0.46, "axis": null}, "text": {"field": "t"}}},
  {"mark": {"type": "text", "text": "P", "fontSize": 12.5, "align": "right", "baseline": "alphabetic", "dx": -2.5}, "encoding": {"x": {"field": "x", "type": "quantitative", "axis": null}, "y": {"datum": -0.46, "axis": null}}}
 ]},
{"data": {"name": "one"}, "mark": {"type": "text", "text": "B", "fontSize": 15, "align": "left", "baseline": "alphabetic"}, "encoding": {"x": {"datum": -2.438, "axis": null}, "y": {"datum": 2.10, "axis": null}}}
]
}
],
"spacing": 68,
"bounds": "flush"
},
{
"hconcat": [
{
"width": 126, "height": 200,
"resolve": {"axis": {"x": "independent", "y": "independent"}},
"layer": [
{"data": {"name": "one"}, "mark": {"type": "rule", "strokeDash": [3, 2], "color": "#111111", "strokeWidth": 1},
 "encoding": {
  "x": {"datum": -0.6516, "type": "quantitative", "scale": {"domain": [-0.6516, 2.9178], "nice": false, "zero": false},
   "axis": {"values": [0, 1, 2], "domain": false, "title": null, "labelFontSize": 12, "labelPadding": 8, "labelOverlap": false, "labelFlush": false, "labelExpr": "datum.value == 0 ? '-' : '+'"}},
  "x2": {"datum": 2.72},
  "y": {"datum": 1, "type": "quantitative", "scale": {"domain": [0, 5], "nice": false, "zero": false},
   "axis": {"values": [0, 1, 2, 3, 4, 5], "format": "d", "labelOverlap": false, "labelFlush": false, "title": "NPN uptake", "titlePadding": 7}}
 }},
{"data": {"name": "one"}, "mark": {"type": "rule", "color": "#333333", "strokeWidth": 1.2}, "encoding": {"x": {"datum": -0.6516, "axis": null}, "x2": {"datum": 2.72}, "y": {"datum": 0, "axis": null}}},
{"data": {"name": "obs"},
 "transform": [
  {"filter": "datum.p == 'C'"},
  {"calculate": "indexof(['neg','pos1','pos2'], datum.g)", "as": "idx"},
  {"joinaggregate": [{"op": "min", "field": "v", "as": "lo"}, {"op": "max", "field": "v", "as": "hi"}, {"op": "count", "as": "n"}], "groupby": ["g"]},
  {"filter": "datum.hi > datum.lo"},
  {"window": [{"op": "row_number", "as": "k"}, {"op": "lead", "field": "v", "as": "nx"}], "sort": [{"field": "v", "order": "ascending"}], "groupby": ["g"]},
  {"calculate": "isValid(datum.nx) ? datum.nx : datum.v", "as": "nx2"},
  {"calculate": "floor((datum.n+1)*0.25) == datum.k ? datum.v + ((datum.n+1)*0.25 - datum.k)*(datum.nx2 - datum.v) : null", "as": "c1"},
  {"calculate": "floor((datum.n+1)*0.5) == datum.k ? datum.v + ((datum.n+1)*0.5 - datum.k)*(datum.nx2 - datum.v) : null", "as": "c2"},
  {"calculate": "floor((datum.n+1)*0.75) == datum.k ? datum.v + ((datum.n+1)*0.75 - datum.k)*(datum.nx2 - datum.v) : null", "as": "c3"},
  {"joinaggregate": [{"op": "max", "field": "c1", "as": "q1"}, {"op": "max", "field": "c2", "as": "q2"}, {"op": "max", "field": "c3", "as": "q3"}], "groupby": ["g"]},
  {"joinaggregate": [{"op": "min", "field": "v", "as": "gmin"}, {"op": "max", "field": "v", "as": "gmax"}]},
  {"density": "v", "groupby": ["g", "idx", "s", "lo", "hi", "q1", "q2", "q3", "gmin", "gmax"], "steps": 400},
  {"filter": "datum.value >= datum.lo - 1e-9 && datum.value <= datum.hi + 1e-9"},
  {"joinaggregate": [{"op": "max", "field": "density", "as": "dm"}], "groupby": ["g"]},
  {"calculate": "datum.idx - 0.3*datum.density/datum.dm", "as": "xl"},
  {"calculate": "datum.idx + 0.3*datum.density/datum.dm", "as": "xr"}
 ],
 "mark": {"type": "area", "orient": "horizontal", "stroke": "#111111", "strokeWidth": 1},
 "encoding": {
  "y": {"field": "value", "type": "quantitative", "axis": null},
  "x": {"field": "xl", "type": "quantitative", "axis": null},
  "x2": {"field": "xr"},
  "fill": {"field": "s", "type": "nominal", "legend": null, "scale": {"domain": ["WT","hilD","hilE","SPI1","iagB","flg","SPI4","tri"], "range": ["#4d57a7","#1fa463","#e63b3d","#72c15b","#ffffff","#ffffff","#ffffff","#f2636f"]}},
  "detail": {"field": "g"}
 }},
{"data": {"name": "obs"},
 "transform": [
  {"filter": "datum.p == 'C'"},
  {"calculate": "indexof(['neg','pos1','pos2'], datum.g)", "as": "idx"},
  {"joinaggregate": [{"op": "min", "field": "v", "as": "lo"}, {"op": "max", "field": "v", "as": "hi"}, {"op": "count", "as": "n"}], "groupby": ["g"]},
  {"filter": "datum.hi > datum.lo"},
  {"window": [{"op": "row_number", "as": "k"}, {"op": "lead", "field": "v", "as": "nx"}], "sort": [{"field": "v", "order": "ascending"}], "groupby": ["g"]},
  {"calculate": "isValid(datum.nx) ? datum.nx : datum.v", "as": "nx2"},
  {"calculate": "floor((datum.n+1)*0.25) == datum.k ? datum.v + ((datum.n+1)*0.25 - datum.k)*(datum.nx2 - datum.v) : null", "as": "c1"},
  {"calculate": "floor((datum.n+1)*0.5) == datum.k ? datum.v + ((datum.n+1)*0.5 - datum.k)*(datum.nx2 - datum.v) : null", "as": "c2"},
  {"calculate": "floor((datum.n+1)*0.75) == datum.k ? datum.v + ((datum.n+1)*0.75 - datum.k)*(datum.nx2 - datum.v) : null", "as": "c3"},
  {"joinaggregate": [{"op": "max", "field": "c1", "as": "q1"}, {"op": "max", "field": "c2", "as": "q2"}, {"op": "max", "field": "c3", "as": "q3"}], "groupby": ["g"]},
  {"joinaggregate": [{"op": "min", "field": "v", "as": "gmin"}, {"op": "max", "field": "v", "as": "gmax"}]},
  {"density": "v", "groupby": ["g", "idx", "s", "lo", "hi", "q1", "q2", "q3", "gmin", "gmax"], "steps": 400},
  {"filter": "datum.value >= datum.lo - 1e-9 && datum.value <= datum.hi + 1e-9"},
  {"joinaggregate": [{"op": "max", "field": "density", "as": "dm"}], "groupby": ["g"]},
  {"calculate": "datum.idx - 0.3*datum.density/datum.dm", "as": "xl"},
  {"calculate": "datum.idx + 0.3*datum.density/datum.dm", "as": "xr"},
  {"fold": ["q1", "q2", "q3"], "as": ["qk", "qv"]},
  {"filter": "abs(datum.value - datum.qv) <= (datum.gmax - datum.gmin)*0.0013"}
 ],
 "mark": {"type": "rule", "color": "#111111", "strokeWidth": 2},
 "encoding": {"y": {"field": "qv", "type": "quantitative", "axis": null}, "x": {"field": "xl", "type": "quantitative", "axis": null}, "x2": {"field": "xr"}}},
{"data": {"name": "obs"},
 "transform": [
  {"filter": "datum.p == 'C'"},
  {"calculate": "indexof(['neg','pos1','pos2'], datum.g)", "as": "idx"},
  {"calculate": "floor(datum.v / 0.175)", "as": "b"},
  {"window": [{"op": "row_number", "as": "k"}], "sort": [{"field": "v", "order": "ascending"}], "groupby": ["g", "b"]},
  {"joinaggregate": [{"op": "count", "as": "c"}], "groupby": ["g", "b"]},
  {"calculate": "datum.idx + (datum.k - 1 - (datum.c - 1)/2) * min(0.31, 0.48 / max(datum.c - 1, 1))", "as": "xp"}
 ],
 "mark": {"type": "point", "filled": true, "size": 55, "stroke": "#111111", "strokeWidth": 1, "opacity": 1},
 "encoding": {"x": {"field": "xp", "type": "quantitative", "axis": null}, "y": {"field": "v", "type": "quantitative", "axis": null},
  "fill": {"condition": {"test": "datum.gl == 1", "value": "#222222"}, "value": "#ffffff"}}},
{"data": {"values": [{"x1": -0.17, "x2": 1.87, "y": 5.225, "t": "0.016", "tx": 0.878}, {"x1": -0.142, "x2": 0.907, "y": 4.9, "t": "0.016", "tx": 0.312}]},
 "layer": [
  {"mark": {"type": "rule", "color": "#6b6b6b", "strokeWidth": 1.2}, "encoding": {"x": {"field": "x1", "type": "quantitative", "axis": null}, "x2": {"field": "x2"}, "y": {"field": "y", "type": "quantitative", "axis": null}}},
  {"mark": {"type": "text", "fontSize": 9, "color": "#333333", "dy": -3, "align": "center", "baseline": "alphabetic"}, "encoding": {"x": {"field": "tx", "type": "quantitative", "axis": null}, "y": {"field": "y", "type": "quantitative", "axis": null}, "text": {"field": "t"}}}
 ]},
{"data": {"name": "one"}, "mark": {"type": "rect", "fill": "#ffffff", "stroke": "#111111", "strokeWidth": 1.2}, "encoding": {"x": {"datum": 0.595, "axis": null}, "x2": {"datum": 2.72}, "y": {"datum": 0.875, "axis": null}, "y2": {"datum": 0.025}}},
{"data": {"name": "one"}, "mark": {"type": "text", "text": "No glucose", "align": "right", "baseline": "middle", "fontSize": 11}, "encoding": {"x": {"datum": 2.266, "axis": null}, "y": {"datum": 0.65, "axis": null}}},
{"data": {"name": "one"}, "mark": {"type": "text", "text": "+ glucose", "align": "right", "baseline": "middle", "fontSize": 11}, "encoding": {"x": {"datum": 2.266, "axis": null}, "y": {"datum": 0.275, "axis": null}}},
{"data": {"name": "one"}, "mark": {"type": "point", "filled": true, "fill": "#ffffff", "stroke": "#111111", "strokeWidth": 1, "size": 40, "opacity": 1}, "encoding": {"x": {"datum": 2.493, "axis": null}, "y": {"datum": 0.65, "axis": null}}},
{"data": {"name": "one"}, "mark": {"type": "point", "filled": true, "fill": "#222222", "stroke": "#111111", "strokeWidth": 1, "size": 40, "opacity": 1}, "encoding": {"x": {"datum": 2.493, "axis": null}, "y": {"datum": 0.275, "axis": null}}},
{"data": {"name": "one"}, "mark": {"type": "text", "text": "Polymyxin B", "align": "right", "baseline": "alphabetic", "fontSize": 11.5}, "encoding": {"x": {"datum": -0.368, "axis": null}, "y": {"datum": -0.625, "axis": null}}},
{"data": {"name": "one"}, "mark": {"type": "text", "text": "C", "fontSize": 15, "align": "left", "baseline": "alphabetic"}, "encoding": {"x": {"datum": -1.728, "axis": null}, "y": {"datum": 5.55, "axis": null}}}
]
},
{
"width": 199, "height": 200,
"resolve": {"axis": {"x": "independent", "y": "independent"}},
"layer": [
{"data": {"name": "one"}, "mark": {"type": "rule", "strokeDash": [3, 2], "color": "#111111", "strokeWidth": 1},
 "encoding": {
  "x": {"datum": -0.6618, "type": "quantitative", "scale": {"domain": [-0.6618, 6.6544], "nice": false, "zero": false},
   "axis": {"values": [0, 1, 2, 3, 4, 5, 6], "title": null, "labelFontSize": 11, "labelColor": "#333333", "labelPadding": 6, "labelOverlap": false, "labelFlush": false, "labelBound": false, "labelExpr": "['n=86','13','13','16','9','6','6'][datum.value]"}},
  "x2": {"datum": 6.6544},
  "y": {"datum": 1, "type": "quantitative", "scale": {"domain": [0, 2], "nice": false, "zero": false},
   "axis": {"values": [0, 0.5, 1, 1.5, 2], "format": ".1f", "labelOverlap": false, "labelFlush": false, "title": "NPN uptake", "titlePadding": 2}}
 }},
{"data": {"name": "obs"},
 "transform": [
  {"filter": "datum.p == 'D'"},
  {"calculate": "indexof(['WT','hilD','SPI1','iagB','flg','SPI4','tri'], datum.g)", "as": "idx"},
  {"joinaggregate": [{"op": "min", "field": "v", "as": "lo"}, {"op": "max", "field": "v", "as": "hi"}, {"op": "count", "as": "n"}], "groupby": ["g"]},
  {"filter": "datum.hi > datum.lo"},
  {"window": [{"op": "row_number", "as": "k"}, {"op": "lead", "field": "v", "as": "nx"}], "sort": [{"field": "v", "order": "ascending"}], "groupby": ["g"]},
  {"calculate": "isValid(datum.nx) ? datum.nx : datum.v", "as": "nx2"},
  {"calculate": "floor((datum.n+1)*0.25) == datum.k ? datum.v + ((datum.n+1)*0.25 - datum.k)*(datum.nx2 - datum.v) : null", "as": "c1"},
  {"calculate": "floor((datum.n+1)*0.5) == datum.k ? datum.v + ((datum.n+1)*0.5 - datum.k)*(datum.nx2 - datum.v) : null", "as": "c2"},
  {"calculate": "floor((datum.n+1)*0.75) == datum.k ? datum.v + ((datum.n+1)*0.75 - datum.k)*(datum.nx2 - datum.v) : null", "as": "c3"},
  {"joinaggregate": [{"op": "max", "field": "c1", "as": "q1"}, {"op": "max", "field": "c2", "as": "q2"}, {"op": "max", "field": "c3", "as": "q3"}], "groupby": ["g"]},
  {"joinaggregate": [{"op": "min", "field": "v", "as": "gmin"}, {"op": "max", "field": "v", "as": "gmax"}]},
  {"density": "v", "groupby": ["g", "idx", "s", "lo", "hi", "q1", "q2", "q3", "gmin", "gmax"], "steps": 400},
  {"filter": "datum.value >= datum.lo - 1e-9 && datum.value <= datum.hi + 1e-9"},
  {"joinaggregate": [{"op": "max", "field": "density", "as": "dm"}], "groupby": ["g"]},
  {"calculate": "datum.idx - 0.36*datum.density/datum.dm", "as": "xl"},
  {"calculate": "datum.idx + 0.36*datum.density/datum.dm", "as": "xr"}
 ],
 "mark": {"type": "area", "orient": "horizontal", "stroke": "#111111", "strokeWidth": 1},
 "encoding": {
  "y": {"field": "value", "type": "quantitative", "axis": null},
  "x": {"field": "xl", "type": "quantitative", "axis": null},
  "x2": {"field": "xr"},
  "fill": {"field": "s", "type": "nominal", "legend": null, "scale": {"domain": ["WT","hilD","hilE","SPI1","iagB","flg","SPI4","tri"], "range": ["#4d57a7","#1fa463","#e63b3d","#72c15b","#ffffff","#ffffff","#ffffff","#f2636f"]}},
  "detail": {"field": "g"}
 }},
{"data": {"name": "obs"},
 "transform": [
  {"filter": "datum.p == 'D'"},
  {"calculate": "indexof(['WT','hilD','SPI1','iagB','flg','SPI4','tri'], datum.g)", "as": "idx"},
  {"joinaggregate": [{"op": "min", "field": "v", "as": "lo"}, {"op": "max", "field": "v", "as": "hi"}, {"op": "count", "as": "n"}], "groupby": ["g"]},
  {"filter": "datum.hi > datum.lo"},
  {"window": [{"op": "row_number", "as": "k"}, {"op": "lead", "field": "v", "as": "nx"}], "sort": [{"field": "v", "order": "ascending"}], "groupby": ["g"]},
  {"calculate": "isValid(datum.nx) ? datum.nx : datum.v", "as": "nx2"},
  {"calculate": "floor((datum.n+1)*0.25) == datum.k ? datum.v + ((datum.n+1)*0.25 - datum.k)*(datum.nx2 - datum.v) : null", "as": "c1"},
  {"calculate": "floor((datum.n+1)*0.5) == datum.k ? datum.v + ((datum.n+1)*0.5 - datum.k)*(datum.nx2 - datum.v) : null", "as": "c2"},
  {"calculate": "floor((datum.n+1)*0.75) == datum.k ? datum.v + ((datum.n+1)*0.75 - datum.k)*(datum.nx2 - datum.v) : null", "as": "c3"},
  {"joinaggregate": [{"op": "max", "field": "c1", "as": "q1"}, {"op": "max", "field": "c2", "as": "q2"}, {"op": "max", "field": "c3", "as": "q3"}], "groupby": ["g"]},
  {"joinaggregate": [{"op": "min", "field": "v", "as": "gmin"}, {"op": "max", "field": "v", "as": "gmax"}]},
  {"density": "v", "groupby": ["g", "idx", "s", "lo", "hi", "q1", "q2", "q3", "gmin", "gmax"], "steps": 400},
  {"filter": "datum.value >= datum.lo - 1e-9 && datum.value <= datum.hi + 1e-9"},
  {"joinaggregate": [{"op": "max", "field": "density", "as": "dm"}], "groupby": ["g"]},
  {"calculate": "datum.idx - 0.36*datum.density/datum.dm", "as": "xl"},
  {"calculate": "datum.idx + 0.36*datum.density/datum.dm", "as": "xr"},
  {"fold": ["q1", "q2", "q3"], "as": ["qk", "qv"]},
  {"filter": "abs(datum.value - datum.qv) <= (datum.gmax - datum.gmin)*0.0013"}
 ],
 "mark": {"type": "rule", "color": "#111111", "strokeWidth": 2},
 "encoding": {"y": {"field": "qv", "type": "quantitative", "axis": null}, "x": {"field": "xl", "type": "quantitative", "axis": null}, "x2": {"field": "xr"}}},
{"data": {"name": "obs"},
 "transform": [
  {"filter": "datum.p == 'D' && datum.g == 'WT'"},
  {"aggregate": [{"op": "median", "field": "v", "as": "m"}], "groupby": ["g"]},
  {"calculate": "indexof(['WT','hilD','SPI1','iagB','flg','SPI4','tri'], datum.g) - 0.36", "as": "xl"},
  {"calculate": "indexof(['WT','hilD','SPI1','iagB','flg','SPI4','tri'], datum.g) + 0.36", "as": "xr"}
 ],
 "mark": {"type": "rule", "color": "#111111", "strokeWidth": 2},
 "encoding": {"y": {"field": "m", "type": "quantitative", "axis": null}, "x": {"field": "xl", "type": "quantitative", "axis": null}, "x2": {"field": "xr"}}},
{"data": {"name": "obs"},
 "transform": [
  {"filter": "datum.p == 'D' && indexof(['flg','SPI4','tri'], datum.g) >= 0"},
  {"calculate": "indexof(['WT','hilD','SPI1','iagB','flg','SPI4','tri'], datum.g)", "as": "idx"},
  {"calculate": "floor(datum.v / 0.07)", "as": "b"},
  {"window": [{"op": "row_number", "as": "k"}], "sort": [{"field": "v", "order": "ascending"}], "groupby": ["g", "b"]},
  {"joinaggregate": [{"op": "count", "as": "c"}], "groupby": ["g", "b"]},
  {"calculate": "datum.idx + (datum.k - 1 - (datum.c - 1)/2) * min(0.40, 0.48 / max(datum.c - 1, 1))", "as": "xp"}
 ],
 "mark": {"type": "point", "filled": true, "size": 45, "stroke": "#111111", "strokeWidth": 1, "opacity": 1},
 "encoding": {"x": {"field": "xp", "type": "quantitative", "axis": null}, "y": {"field": "v", "type": "quantitative", "axis": null},
  "fill": {"condition": {"test": "datum.gl == 1", "value": "#222222"}, "value": "#ffffff"}}},
{"data": {"values": [{"x1": -0.074, "x2": 9.30, "y": 2.09, "t": "<1.0E-06", "tx": 4.45}, {"x1": 0.956, "x2": 2.978, "y": 1.87, "t": "1.1E-05", "tx": 1.91}, {"x1": 0.956, "x2": 2.059, "y": 1.09, "t": "0.880", "tx": 1.47}, {"x1": 0.846, "x2": 4.081, "y": 0.29, "t": "0.060", "tx": 2.43}, {"x1": 0.846, "x2": 5.037, "y": 0.16, "t": "1.5E-04", "tx": 2.43}, {"x1": 0.846, "x2": 6.03, "y": 0.03, "t": "0.244", "tx": 2.43}]},
 "layer": [
  {"mark": {"type": "rule", "color": "#6b6b6b", "strokeWidth": 1.2}, "encoding": {"x": {"field": "x1", "type": "quantitative", "axis": null}, "x2": {"field": "x2"}, "y": {"field": "y", "type": "quantitative", "axis": null}}},
  {"mark": {"type": "text", "fontSize": 9, "color": "#333333", "dy": -3, "align": "center", "baseline": "alphabetic"}, "encoding": {"x": {"field": "tx", "type": "quantitative", "axis": null}, "y": {"field": "y", "type": "quantitative", "axis": null}, "text": {"field": "t"}}}
 ]},
{"data": {"name": "one"}, "mark": {"type": "text", "text": "pBAD24 +Ara", "fontWeight": "bold", "fontSize": 12, "align": "left", "baseline": "alphabetic"}, "encoding": {"x": {"datum": -0.074, "axis": null}, "y": {"datum": 2.14, "axis": null}}},
{"data": {"name": "one"}, "mark": {"type": "text", "text": "D", "fontSize": 15, "align": "left", "baseline": "alphabetic"}, "encoding": {"x": {"datum": -2.279, "axis": null}, "y": {"datum": 2.22, "axis": null}}},
{"data": {"values": [{"k": "WT", "l": "WT"}, {"k": "SPI1", "l": "ΔSPI-1"}, {"k": "SPI4", "l": "ΔSPI-4"}, {"k": "tri", "l": "ΔSPI-4"}]},
 "transform": [{"calculate": "indexof(['WT','hilD','SPI1','iagB','flg','SPI4','tri'], datum.k) + 0.07", "as": "lx"}],
 "mark": {"type": "text", "angle": 315, "align": "right", "baseline": "middle", "fontSize": 11},
 "encoding": {"x": {"field": "lx", "type": "quantitative", "axis": null}, "y": {"datum": -0.29, "axis": null}, "text": {"field": "l"}}},
{"data": {"values": [{"k": "hilD", "l": "ΔhilD"}, {"k": "iagB", "l": "ΔiagB-invG"}, {"k": "flg", "l": "Δflg"}]},
 "transform": [{"calculate": "indexof(['WT','hilD','SPI1','iagB','flg','SPI4','tri'], datum.k) + 0.07", "as": "lx"}],
 "mark": {"type": "text", "angle": 315, "align": "right", "baseline": "middle", "fontSize": 11, "fontStyle": "italic"},
 "encoding": {"x": {"field": "lx", "type": "quantitative", "axis": null}, "y": {"datum": -0.29, "axis": null}, "text": {"field": "l"}}},
{"data": {"values": [{"k": "tri", "l": "ΔiagB-invG Δflg"}]},
 "transform": [{"calculate": "indexof(['WT','hilD','SPI1','iagB','flg','SPI4','tri'], datum.k) + 0.07", "as": "lx"}],
 "mark": {"type": "text", "angle": 315, "align": "right", "baseline": "middle", "fontSize": 11, "fontStyle": "italic", "dx": -38},
 "encoding": {"x": {"field": "lx", "type": "quantitative", "axis": null}, "y": {"datum": -0.29, "axis": null}, "text": {"field": "l"}}}
]
},
{
"width": 199, "height": 200,
"resolve": {"axis": {"x": "independent", "y": "independent"}},
"layer": [
{"data": {"name": "one"}, "mark": {"type": "rule", "strokeDash": [3, 2], "color": "#111111", "strokeWidth": 1},
 "encoding": {
  "x": {"datum": -0.6667, "type": "quantitative", "scale": {"domain": [-0.6667, 6.7037], "nice": false, "zero": false},
   "axis": {"values": [0, 1, 2, 3, 4, 5, 6], "title": null, "labelFontSize": 11, "labelColor": "#333333", "labelPadding": 6, "labelOverlap": false, "labelFlush": false, "labelBound": false, "labelExpr": "['n=80','14','7','16','10','6','7'][datum.value]"}},
  "x2": {"datum": 6.7037},
  "y": {"datum": 1, "type": "quantitative", "scale": {"domain": [0, 8], "nice": false, "zero": false},
   "axis": {"values": [0, 2, 4, 6, 8], "format": "d", "labelOverlap": false, "labelFlush": false, "title": "NPN uptake", "titlePadding": 5}}
 }},
{"data": {"name": "obs"},
 "transform": [
  {"filter": "datum.p == 'E' && datum.g != 'SPI1'"},
  {"calculate": "indexof(['WT','hilD','SPI1','iagB','flg','SPI4','tri'], datum.g)", "as": "idx"},
  {"joinaggregate": [{"op": "min", "field": "v", "as": "lo"}, {"op": "max", "field": "v", "as": "hi"}, {"op": "count", "as": "n"}], "groupby": ["g"]},
  {"filter": "datum.hi > datum.lo"},
  {"window": [{"op": "row_number", "as": "k"}, {"op": "lead", "field": "v", "as": "nx"}], "sort": [{"field": "v", "order": "ascending"}], "groupby": ["g"]},
  {"calculate": "isValid(datum.nx) ? datum.nx : datum.v", "as": "nx2"},
  {"calculate": "floor((datum.n+1)*0.25) == datum.k ? datum.v + ((datum.n+1)*0.25 - datum.k)*(datum.nx2 - datum.v) : null", "as": "c1"},
  {"calculate": "floor((datum.n+1)*0.5) == datum.k ? datum.v + ((datum.n+1)*0.5 - datum.k)*(datum.nx2 - datum.v) : null", "as": "c2"},
  {"calculate": "floor((datum.n+1)*0.75) == datum.k ? datum.v + ((datum.n+1)*0.75 - datum.k)*(datum.nx2 - datum.v) : null", "as": "c3"},
  {"joinaggregate": [{"op": "max", "field": "c1", "as": "q1"}, {"op": "max", "field": "c2", "as": "q2"}, {"op": "max", "field": "c3", "as": "q3"}], "groupby": ["g"]},
  {"joinaggregate": [{"op": "min", "field": "v", "as": "gmin"}, {"op": "max", "field": "v", "as": "gmax"}]},
  {"density": "v", "groupby": ["g", "idx", "s", "lo", "hi", "q1", "q2", "q3", "gmin", "gmax"], "steps": 400},
  {"filter": "datum.value >= datum.lo - 1e-9 && datum.value <= datum.hi + 1e-9"},
  {"joinaggregate": [{"op": "max", "field": "density", "as": "dm"}], "groupby": ["g"]},
  {"calculate": "datum.idx - 0.36*datum.density/datum.dm", "as": "xl"},
  {"calculate": "datum.idx + 0.36*datum.density/datum.dm", "as": "xr"}
 ],
 "mark": {"type": "area", "orient": "horizontal", "stroke": "#111111", "strokeWidth": 1},
 "encoding": {
  "y": {"field": "value", "type": "quantitative", "axis": null},
  "x": {"field": "xl", "type": "quantitative", "axis": null},
  "x2": {"field": "xr"},
  "fill": {"field": "s", "type": "nominal", "legend": null, "scale": {"domain": ["WT","hilD","hilE","SPI1","iagB","flg","SPI4","tri"], "range": ["#4d57a7","#1fa463","#e63b3d","#72c15b","#ffffff","#ffffff","#ffffff","#f2636f"]}},
  "detail": {"field": "g"}
 }},
{"data": {"name": "obs"},
 "transform": [
  {"filter": "datum.p == 'E' && datum.g != 'SPI1'"},
  {"calculate": "indexof(['WT','hilD','SPI1','iagB','flg','SPI4','tri'], datum.g)", "as": "idx"},
  {"joinaggregate": [{"op": "min", "field": "v", "as": "lo"}, {"op": "max", "field": "v", "as": "hi"}, {"op": "count", "as": "n"}], "groupby": ["g"]},
  {"filter": "datum.hi > datum.lo"},
  {"window": [{"op": "row_number", "as": "k"}, {"op": "lead", "field": "v", "as": "nx"}], "sort": [{"field": "v", "order": "ascending"}], "groupby": ["g"]},
  {"calculate": "isValid(datum.nx) ? datum.nx : datum.v", "as": "nx2"},
  {"calculate": "floor((datum.n+1)*0.25) == datum.k ? datum.v + ((datum.n+1)*0.25 - datum.k)*(datum.nx2 - datum.v) : null", "as": "c1"},
  {"calculate": "floor((datum.n+1)*0.5) == datum.k ? datum.v + ((datum.n+1)*0.5 - datum.k)*(datum.nx2 - datum.v) : null", "as": "c2"},
  {"calculate": "floor((datum.n+1)*0.75) == datum.k ? datum.v + ((datum.n+1)*0.75 - datum.k)*(datum.nx2 - datum.v) : null", "as": "c3"},
  {"joinaggregate": [{"op": "max", "field": "c1", "as": "q1"}, {"op": "max", "field": "c2", "as": "q2"}, {"op": "max", "field": "c3", "as": "q3"}], "groupby": ["g"]},
  {"joinaggregate": [{"op": "min", "field": "v", "as": "gmin"}, {"op": "max", "field": "v", "as": "gmax"}]},
  {"density": "v", "groupby": ["g", "idx", "s", "lo", "hi", "q1", "q2", "q3", "gmin", "gmax"], "steps": 400},
  {"filter": "datum.value >= datum.lo - 1e-9 && datum.value <= datum.hi + 1e-9"},
  {"joinaggregate": [{"op": "max", "field": "density", "as": "dm"}], "groupby": ["g"]},
  {"calculate": "datum.idx - 0.36*datum.density/datum.dm", "as": "xl"},
  {"calculate": "datum.idx + 0.36*datum.density/datum.dm", "as": "xr"},
  {"fold": ["q1", "q2", "q3"], "as": ["qk", "qv"]},
  {"filter": "abs(datum.value - datum.qv) <= (datum.gmax - datum.gmin)*0.0013"}
 ],
 "mark": {"type": "rule", "color": "#111111", "strokeWidth": 2},
 "encoding": {"y": {"field": "qv", "type": "quantitative", "axis": null}, "x": {"field": "xl", "type": "quantitative", "axis": null}, "x2": {"field": "xr"}}},
{"data": {"name": "obs"},
 "transform": [
  {"filter": "datum.p == 'E' && indexof(['SPI1','flg','SPI4','tri'], datum.g) >= 0"},
  {"calculate": "indexof(['WT','hilD','SPI1','iagB','flg','SPI4','tri'], datum.g)", "as": "idx"},
  {"calculate": "floor(datum.v / 0.28)", "as": "b"},
  {"window": [{"op": "row_number", "as": "k"}], "sort": [{"field": "v", "order": "ascending"}], "groupby": ["g", "b"]},
  {"joinaggregate": [{"op": "count", "as": "c"}], "groupby": ["g", "b"]},
  {"calculate": "datum.idx + (datum.k - 1 - (datum.c - 1)/2) * min(0.41, 0.48 / max(datum.c - 1, 1))", "as": "xp"}
 ],
 "mark": {"type": "point", "filled": true, "size": 45, "stroke": "#111111", "strokeWidth": 1, "opacity": 1},
 "encoding": {"x": {"field": "xp", "type": "quantitative", "axis": null}, "y": {"field": "v", "type": "quantitative", "axis": null},
  "fill": {"condition": {"test": "datum.gl == 1", "value": "#222222"}, "value": "#ffffff"}}},
{"data": {"values": [{"x1": -0.111, "x2": 6.185, "y": 7.8, "t": "1E-05"}, {"x1": -0.111, "x2": 2.926, "y": 7.12, "t": "2.1E-05"}, {"x1": -0.111, "x2": 1.926, "y": 6.52, "t": "<1E-06"}, {"x1": -0.111, "x2": 1.074, "y": 6.0, "t": "1.7E-06"}]},
 "layer": [
  {"mark": {"type": "rule", "color": "#6b6b6b", "strokeWidth": 1.2}, "encoding": {"x": {"field": "x1", "type": "quantitative", "axis": null}, "x2": {"field": "x2"}, "y": {"field": "y", "type": "quantitative", "axis": null}}},
  {"mark": {"type": "text", "fontSize": 9, "color": "#333333", "dy": -3, "align": "left", "baseline": "alphabetic"}, "encoding": {"x": {"field": "x1", "type": "quantitative", "axis": null}, "y": {"field": "y", "type": "quantitative", "axis": null}, "text": {"field": "t"}}}
 ]},
{"data": {"name": "one"}, "mark": {"type": "text", "text": "p", "fontWeight": "bold", "fontSize": 12, "align": "left", "baseline": "alphabetic"}, "encoding": {"x": {"datum": 0.037, "axis": null}, "y": {"datum": 8.56, "axis": null}}},
{"data": {"name": "one"}, "mark": {"type": "text", "text": "hilA", "fontWeight": "bold", "fontStyle": "italic", "fontSize": 12, "align": "left", "baseline": "alphabetic", "dx": 7.3}, "encoding": {"x": {"datum": 0.037, "axis": null}, "y": {"datum": 8.56, "axis": null}}},
{"data": {"name": "one"}, "mark": {"type": "text", "text": "+Ara", "fontWeight": "bold", "fontSize": 12, "align": "left", "baseline": "alphabetic", "dx": 33}, "encoding": {"x": {"datum": 0.037, "axis": null}, "y": {"datum": 8.56, "axis": null}}},
{"data": {"name": "one"}, "mark": {"type": "text", "text": "E", "fontSize": 15, "align": "left", "baseline": "alphabetic"}, "encoding": {"x": {"datum": -1.815, "axis": null}, "y": {"datum": 8.88, "axis": null}}},
{"data": {"values": [{"k": "WT", "l": "WT"}, {"k": "SPI1", "l": "ΔSPI-1"}, {"k": "SPI4", "l": "Δ SPI-4"}, {"k": "tri", "l": "ΔSPI-4"}]},
 "transform": [{"calculate": "indexof(['WT','hilD','SPI1','iagB','flg','SPI4','tri'], datum.k) + 0.074", "as": "lx"}],
 "mark": {"type": "text", "angle": 315, "align": "right", "baseline": "middle", "fontSize": 11},
 "encoding": {"x": {"field": "lx", "type": "quantitative", "axis": null}, "y": {"datum": -1.16, "axis": null}, "text": {"field": "l"}}},
{"data": {"values": [{"k": "hilD", "l": "ΔhilD"}, {"k": "iagB", "l": "Δ iagB-invG"}, {"k": "flg", "l": "Δflg"}]},
 "transform": [{"calculate": "indexof(['WT','hilD','SPI1','iagB','flg','SPI4','tri'], datum.k) + 0.074", "as": "lx"}],
 "mark": {"type": "text", "angle": 315, "align": "right", "baseline": "middle", "fontSize": 11, "fontStyle": "italic"},
 "encoding": {"x": {"field": "lx", "type": "quantitative", "axis": null}, "y": {"datum": -1.16, "axis": null}, "text": {"field": "l"}}},
{"data": {"values": [{"k": "tri", "l": "Δ iagB-invG Δflg"}]},
 "transform": [{"calculate": "indexof(['WT','hilD','SPI1','iagB','flg','SPI4','tri'], datum.k) + 0.074", "as": "lx"}],
 "mark": {"type": "text", "angle": 315, "align": "right", "baseline": "middle", "fontSize": 11, "fontStyle": "italic", "dx": -38},
 "encoding": {"x": {"field": "lx", "type": "quantitative", "axis": null}, "y": {"datum": -1.16, "axis": null}, "text": {"field": "l"}}}
]
}
],
"spacing": 50,
"bounds": "flush"
}
],
"config": {
 "font": "Liberation Sans",
 "view": {"stroke": null},
 "axis": {"grid": false, "domainColor": "#333333", "domainWidth": 1.2, "tickColor": "#333333", "tickWidth": 1.2, "tickSize": 7, "labelColor": "#111111", "labelFontSize": 13, "titleFontSize": 13, "titleFontWeight": "normal", "titleColor": "#111111", "labelFlush": false, "labelOverlap": false, "labelPadding": 2, "labelFont": "Liberation Sans", "titleFont": "Liberation Sans"},
 "axisX": {"labelAngle": 0}
}
}
